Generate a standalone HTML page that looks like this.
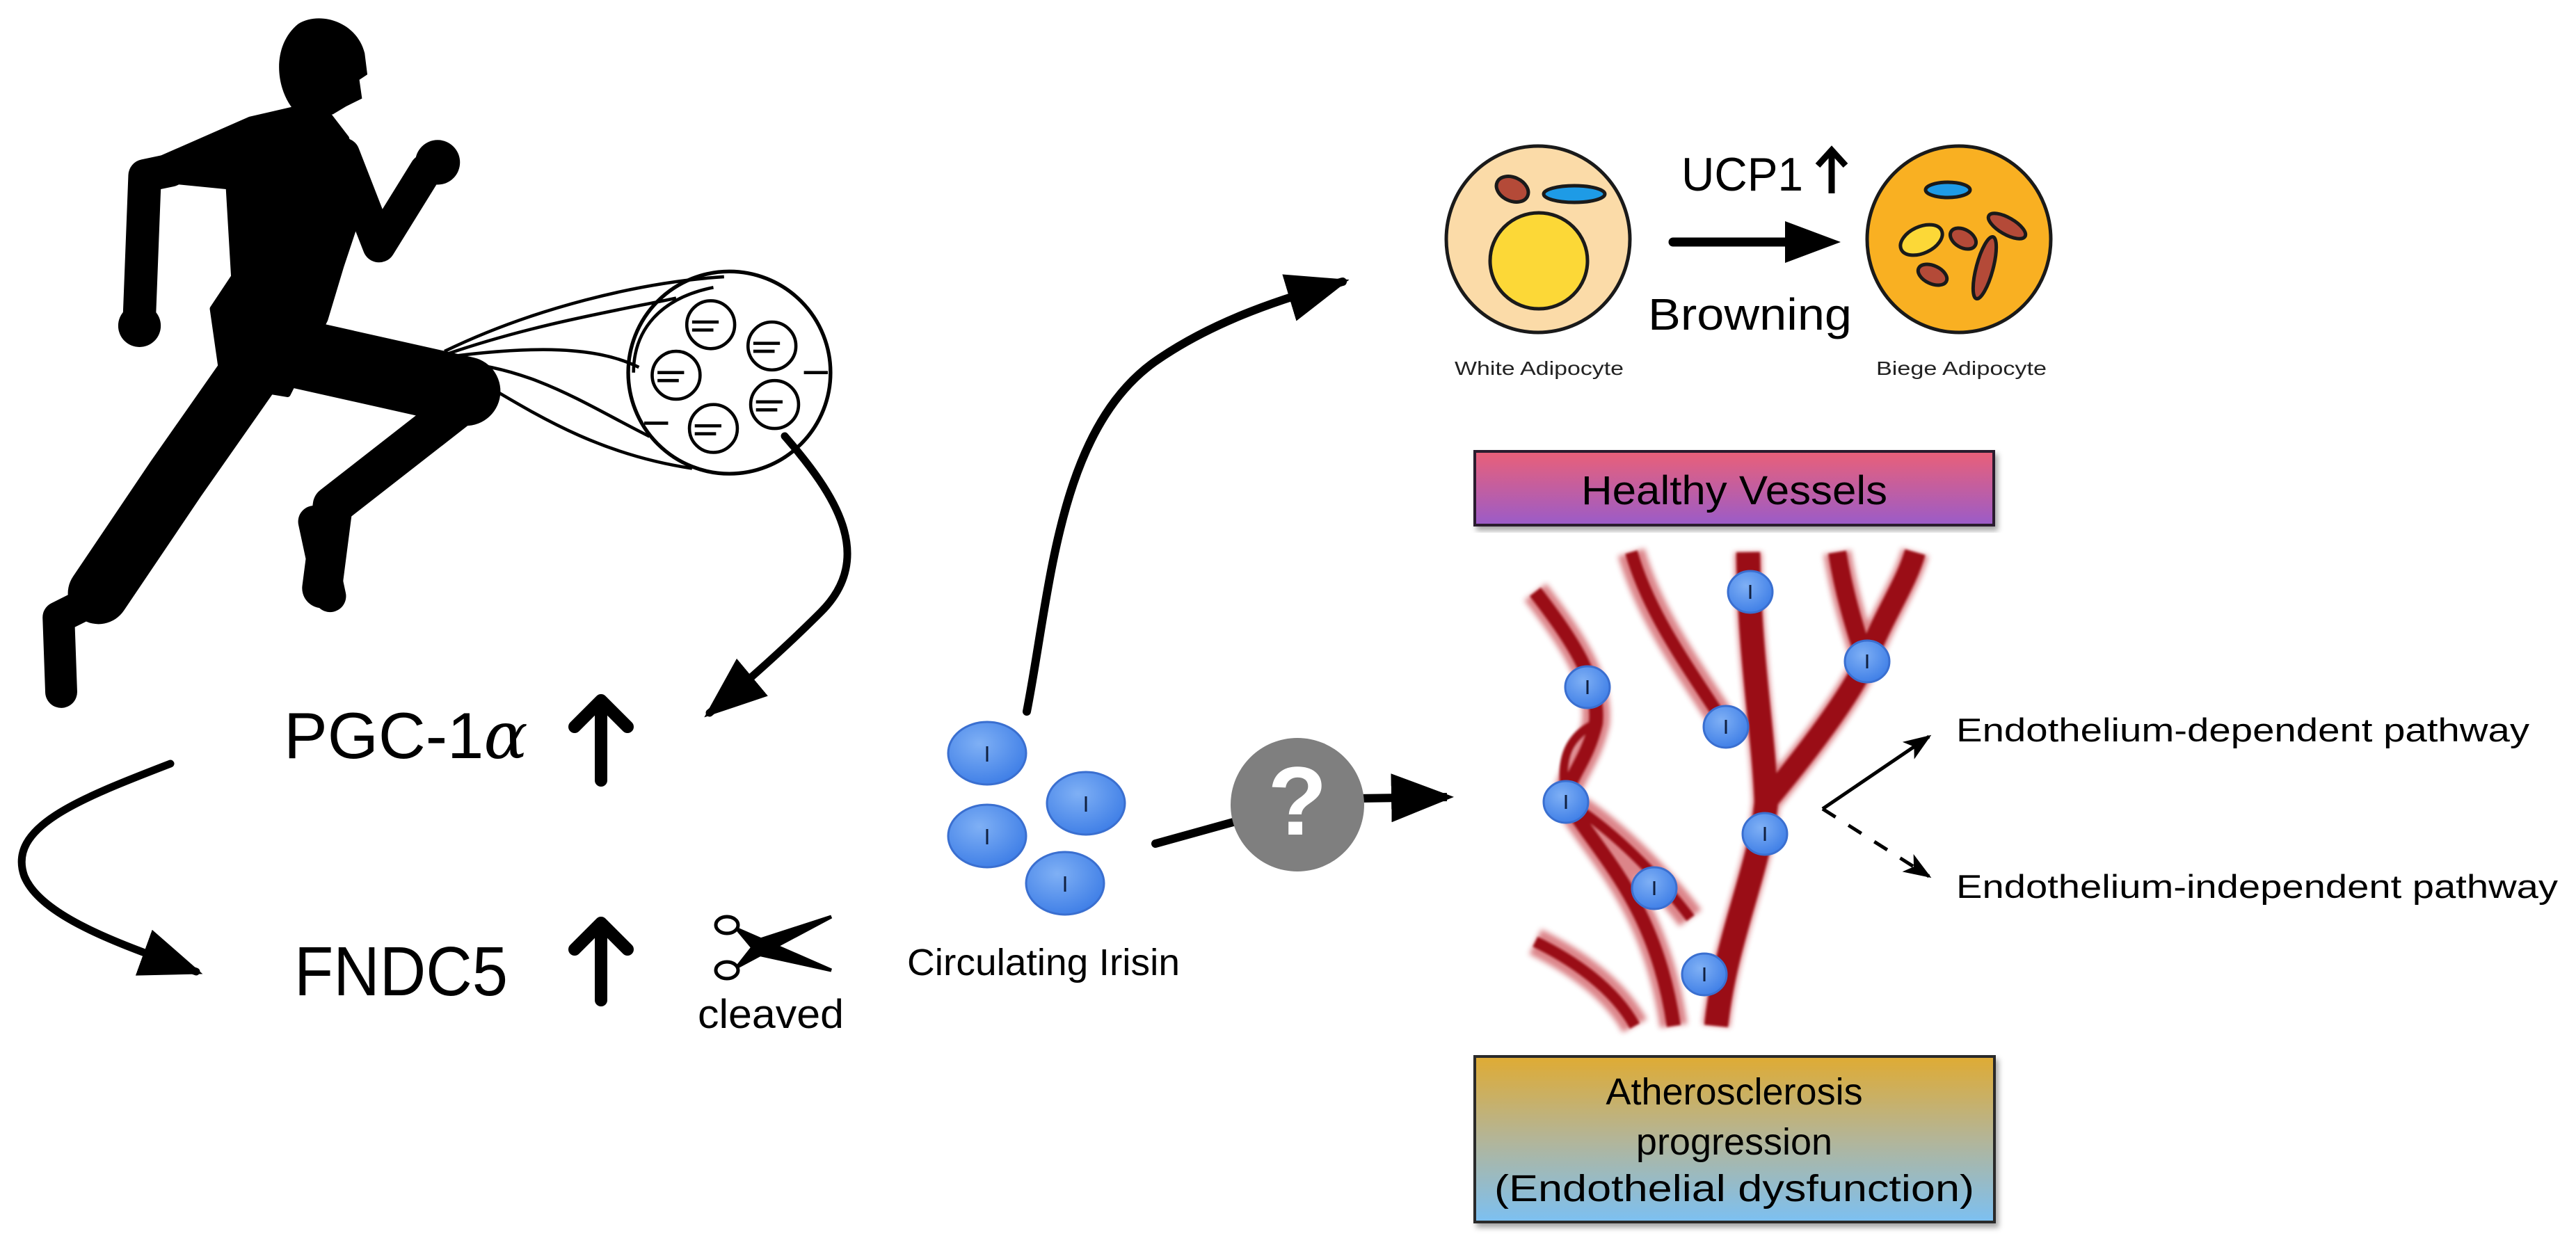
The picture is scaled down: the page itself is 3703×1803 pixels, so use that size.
<!DOCTYPE html>
<html><head><meta charset="utf-8"><style>html,body{margin:0;padding:0;background:#fff}svg{display:block}</style></head>
<body>
<svg width="3703" height="1803" viewBox="0 0 3703 1803" xmlns="http://www.w3.org/2000/svg" font-family="Liberation Sans, sans-serif">
<defs>
<marker id="ah" markerUnits="userSpaceOnUse" markerWidth="90" markerHeight="70" refX="80" refY="35" orient="auto"><path d="M0,0 L90,35 L0,70 Z" fill="#000"/></marker>
<marker id="ahs" markerUnits="userSpaceOnUse" markerWidth="40" markerHeight="30" refX="36" refY="15" orient="auto"><path d="M0,0 L40,15 L0,30 L10,15 Z" fill="#000"/></marker>
<linearGradient id="g1" x1="0" y1="0" x2="0" y2="1"><stop offset="0" stop-color="#ea5f78"/><stop offset="1" stop-color="#9a5cc9"/></linearGradient>
<linearGradient id="g2" x1="0" y1="0" x2="0" y2="1"><stop offset="0" stop-color="#dfab33"/><stop offset="0.5" stop-color="#b3b598"/><stop offset="1" stop-color="#7cc0f2"/></linearGradient>
<radialGradient id="bl" cx="0.4" cy="0.35" r="0.7"><stop offset="0" stop-color="#7fb0f5"/><stop offset="1" stop-color="#3d7de6"/></radialGradient>
<filter id="bf"><feGaussianBlur stdDeviation="4"/></filter>
<filter id="bf2"><feGaussianBlur stdDeviation="1.5"/></filter>
<filter id="sh"><feDropShadow dx="4" dy="6" stdDeviation="4" flood-color="#000" flood-opacity="0.35"/></filter>
</defs>

<!-- Runner + muscle (zoom coords, uniform) -->
<g transform="scale(0.7653)">
  <g fill="#000" stroke="#000" stroke-linecap="round" stroke-linejoin="round">
    <path d="M560,45 C600,20 670,40 685,100 L690,140 L675,150 L680,185 L650,200 L625,215 L560,215 C520,180 505,90 560,45 Z" stroke="none"/>
    <polygon points="470,225 600,195 650,260 680,380 640,500 610,600 540,740 420,720 400,580 440,520 430,350 330,340 265,315" stroke-width="12"/>
    <polyline points="645,290 712,462 800,320" fill="none" stroke-width="62"/>
    <circle cx="822" cy="305" r="42" stroke="none"/>
    <polyline points="320,320 272,330 262,590" fill="none" stroke-width="62"/>
    <circle cx="262" cy="612" r="40" stroke="none"/>
    <polyline points="540,660 875,735" fill="none" stroke-width="130"/>
    <polyline points="875,755 625,950 605,1105" fill="none" stroke-width="75"/>
    <polyline points="590,980 620,1120" fill="none" stroke-width="60"/>
    <polyline points="470,700 330,900 185,1115" fill="none" stroke-width="115"/>
    <polyline points="150,1140 110,1160 115,1300" fill="none" stroke-width="60"/>
  </g>
  <g fill="none" stroke="#000" stroke-width="6">
    <path d="M835,660 C1000,580 1200,530 1360,520"/>
    <path d="M840,665 C1000,610 1150,585 1270,560"/>
    <path d="M845,670 C1000,650 1120,650 1200,690"/>
    <path d="M850,680 C1000,690 1100,760 1220,820"/>
    <path d="M855,690 C980,760 1100,850 1300,880"/>
    <circle cx="1370" cy="700" r="190" stroke-width="7"/>
    <path d="M1190,700 C1190,620 1240,560 1340,540"/>
    <g stroke-width="6">
      <circle cx="1335" cy="610" r="45"/><circle cx="1450" cy="650" r="45"/>
      <circle cx="1270" cy="705" r="45"/><circle cx="1455" cy="760" r="45"/>
      <circle cx="1340" cy="805" r="45"/>
      <path d="M1300,605h50M1300,620h40M1415,645h50M1415,660h40M1235,700h50M1235,715h40M1420,755h50M1420,770h40M1305,800h50M1305,815h40"/>
      <path d="M1210,795h45M1510,700h45"/>
    </g>
  </g>
</g>

<!-- arrows left -->
<path d="M1128,627 C1200,710 1260,800 1180,880 C1130,930 1080,975 1020,1025" fill="none" stroke="#000" stroke-width="11" stroke-linecap="round" marker-end="url(#ah)"/>
<path d="M245,1098 C110,1150 10,1190 35,1260 C60,1320 180,1360 282,1397" fill="none" stroke="#000" stroke-width="11" stroke-linecap="round" marker-end="url(#ah)"/>

<text x="408" y="1090" font-size="94">PGC-1<tspan font-family="DejaVu Serif, serif" font-style="italic">α</tspan></text>
<text x="423" y="1431" font-size="100" textLength="307" lengthAdjust="spacingAndGlyphs">FNDC5</text>
<g stroke="#000" stroke-width="18" stroke-linecap="round" fill="none" stroke-linejoin="round">
  <path d="M864,1122 V1010 M826,1045 L864,1007 L902,1045"/>
  <path d="M864,1438 V1330 M826,1365 L864,1327 L902,1365"/>
</g>
<g fill="none" stroke="#000" stroke-width="5">
  <ellipse cx="1045" cy="1330" rx="16" ry="12"/><ellipse cx="1045" cy="1395" rx="16" ry="12"/>
  <path d="M1060,1336 L1195,1395 L1090,1372 Z" fill="#000"/>
  <path d="M1060,1390 L1195,1318 L1090,1352 Z" fill="#000"/>
</g>
<text x="1003" y="1478" font-size="58" textLength="210" lengthAdjust="spacingAndGlyphs">cleaved</text>

<!-- circulating irisin -->
<g stroke="#3a6fd0" stroke-width="3" fill="url(#bl)">
  <ellipse cx="1419" cy="1083" rx="56" ry="45"/><ellipse cx="1561" cy="1155" rx="56" ry="45"/>
  <ellipse cx="1419" cy="1202" rx="56" ry="45"/><ellipse cx="1531" cy="1270" rx="56" ry="45"/>
</g>
<g stroke="#102040" stroke-width="3"><path d="M1419,1073v22M1561,1145v22M1419,1192v22M1531,1260v22"/></g>
<text x="1304" y="1402" font-size="54" textLength="392" lengthAdjust="spacingAndGlyphs">Circulating Irisin</text>

<path d="M1476,1023 C1510,850 1520,620 1660,520 C1760,450 1880,420 1930,405" fill="none" stroke="#000" stroke-width="12" stroke-linecap="round" marker-end="url(#ah)"/>
<path d="M1661,1213 L1780,1180" stroke="#000" stroke-width="12" stroke-linecap="round"/>
<path d="M1950,1148 L2080,1146" stroke="#000" stroke-width="12" marker-end="url(#ah)"/>
<circle cx="1865" cy="1157" r="96" fill="#7f7f7f"/>
<text x="1865" y="1200" font-size="140" font-weight="bold" fill="#fff" text-anchor="middle">?</text>

<!-- adipocytes -->
<g stroke="#1a1a1a" stroke-width="5">
  <ellipse cx="2211" cy="344" rx="132" ry="134" fill="#fbdba8"/>
  <ellipse cx="2212" cy="375" rx="70" ry="69" fill="#fcd837"/>
  <ellipse cx="2174" cy="272" rx="24" ry="17" fill="#b44a38" transform="rotate(25 2174 272)"/>
  <ellipse cx="2263" cy="279" rx="44" ry="12" fill="#1e9be6"/>
  <ellipse cx="2816" cy="344" rx="132" ry="134" fill="#f9b022"/>
  <ellipse cx="2800" cy="273" rx="32" ry="11" fill="#1e9be6"/>
  <ellipse cx="2762" cy="345" rx="32" ry="19" fill="#fcd837" transform="rotate(-25 2762 345)"/>
  <ellipse cx="2822" cy="343" rx="20" ry="13" fill="#b44a38" transform="rotate(30 2822 343)"/>
  <ellipse cx="2778" cy="395" rx="22" ry="13" fill="#b44a38" transform="rotate(25 2778 395)"/>
  <ellipse cx="2853" cy="385" rx="12" ry="46" fill="#b44a38" transform="rotate(15 2853 385)"/>
  <ellipse cx="2885" cy="325" rx="30" ry="12" fill="#b44a38" transform="rotate(30 2885 325)"/>
</g>
<path d="M2405,348 H2575" stroke="#000" stroke-width="13" stroke-linecap="round"/>
<path d="M2566,318 L2646,348 L2566,378 Z" fill="#000"/>
<text x="2417" y="274" font-size="68" textLength="175" lengthAdjust="spacingAndGlyphs">UCP1</text>
<path d="M2633,278 V218 M2613,238 L2633,216 L2653,238" stroke="#000" stroke-width="9" fill="none"/>
<text x="2369" y="474" font-size="64" textLength="293" lengthAdjust="spacingAndGlyphs">Browning</text>
<text x="2091" y="539" font-size="28" textLength="243" lengthAdjust="spacingAndGlyphs" fill="#222">White Adipocyte</text>
<text x="2697" y="539" font-size="28" textLength="245" lengthAdjust="spacingAndGlyphs" fill="#222">Biege Adipocyte</text>

<!-- boxes -->
<rect x="2120" y="649" width="746" height="106" fill="url(#g1)" stroke="#2a1d2e" stroke-width="4" filter="url(#sh)"/>
<text x="2493" y="725" font-size="58" text-anchor="middle" textLength="440" lengthAdjust="spacingAndGlyphs">Healthy Vessels</text>
<rect x="2120" y="1519" width="747" height="238" fill="url(#g2)" stroke="#2a2a2a" stroke-width="4" filter="url(#sh)"/>
<g font-size="54" text-anchor="middle">
<text x="2493" y="1588">Atherosclerosis</text>
<text x="2493" y="1660">progression</text>
<text x="2493" y="1727" textLength="690" lengthAdjust="spacingAndGlyphs">(Endothelial dysfunction)</text>
</g>

<!-- vessels -->
<g fill="none" stroke-linecap="butt">
 <g stroke="#c0202a" stroke-width="40" filter="url(#bf)" opacity="0.55">
  <path d="M2467,1475 C2480,1350 2530,1250 2539,1153 C2535,1050 2515,950 2513,794"/>
  <path d="M2539,1153 C2600,1080 2660,1000 2682,951 C2710,880 2740,840 2753,794"/>
  <path d="M2682,951 C2665,900 2650,850 2641,794"/>
  <path d="M2478,1039 C2420,950 2370,880 2345,794"/>
  <path d="M2207,851 C2260,920 2300,980 2294,1040 C2280,1100 2250,1120 2253,1153 C2300,1230 2380,1300 2406,1475"/>
  <path d="M2253,1153 C2330,1200 2400,1280 2430,1320"/>
  <path d="M2207,1354 C2260,1380 2320,1420 2350,1475"/>
 </g>
 <g stroke="#9a0f16" stroke-width="26" filter="url(#bf2)">
  <path d="M2467,1475 C2480,1350 2530,1250 2539,1153 C2535,1050 2515,950 2513,794" stroke-width="34"/>
  <path d="M2539,1153 C2600,1080 2660,1000 2682,951 C2710,880 2740,840 2753,794" stroke-width="30"/>
  <path d="M2682,951 C2665,900 2650,850 2641,794"/>
  <path d="M2478,1039 C2420,950 2370,880 2345,794" stroke-width="18"/>
  <path d="M2207,851 C2260,920 2300,980 2294,1040 C2280,1100 2250,1120 2253,1153 C2300,1230 2380,1300 2406,1475" stroke-width="20"/>
  <path d="M2253,1153 C2330,1200 2400,1280 2430,1320" stroke-width="14"/>
  <path d="M2207,1354 C2260,1380 2320,1420 2350,1475" stroke-width="16"/>
  <path d="M2294,1040 C2250,1060 2240,1100 2253,1153" stroke-width="12"/>
 </g>
</g>
<g stroke="#3a6fd0" stroke-width="3" fill="url(#bl)">
  <ellipse cx="2516" cy="851" rx="32" ry="30"/><ellipse cx="2684" cy="951" rx="32" ry="30"/>
  <ellipse cx="2282" cy="988" rx="32" ry="30"/><ellipse cx="2481" cy="1045" rx="32" ry="30"/>
  <ellipse cx="2251" cy="1153" rx="32" ry="30"/><ellipse cx="2537" cy="1199" rx="32" ry="30"/>
  <ellipse cx="2378" cy="1277" rx="32" ry="30"/><ellipse cx="2450" cy="1401" rx="32" ry="30"/>
</g>
<g stroke="#102040" stroke-width="3"><path d="M2516,841v20M2684,941v20M2282,978v20M2481,1035v20M2251,1143v20M2537,1189v20M2378,1267v20M2450,1391v20"/></g>

<!-- pathways -->
<path d="M2620,1163 L2773,1059" stroke="#000" stroke-width="5" fill="none" marker-end="url(#ahs)"/>
<path d="M2620,1163 L2773,1260" stroke="#000" stroke-width="5" stroke-dasharray="22,22" fill="none" marker-end="url(#ahs)"/>
<text x="2812" y="1066" font-size="47" textLength="824" lengthAdjust="spacingAndGlyphs">Endothelium-dependent pathway</text>
<text x="2812" y="1291" font-size="47" textLength="865" lengthAdjust="spacingAndGlyphs">Endothelium-independent pathway</text>
</svg>
</body></html>
